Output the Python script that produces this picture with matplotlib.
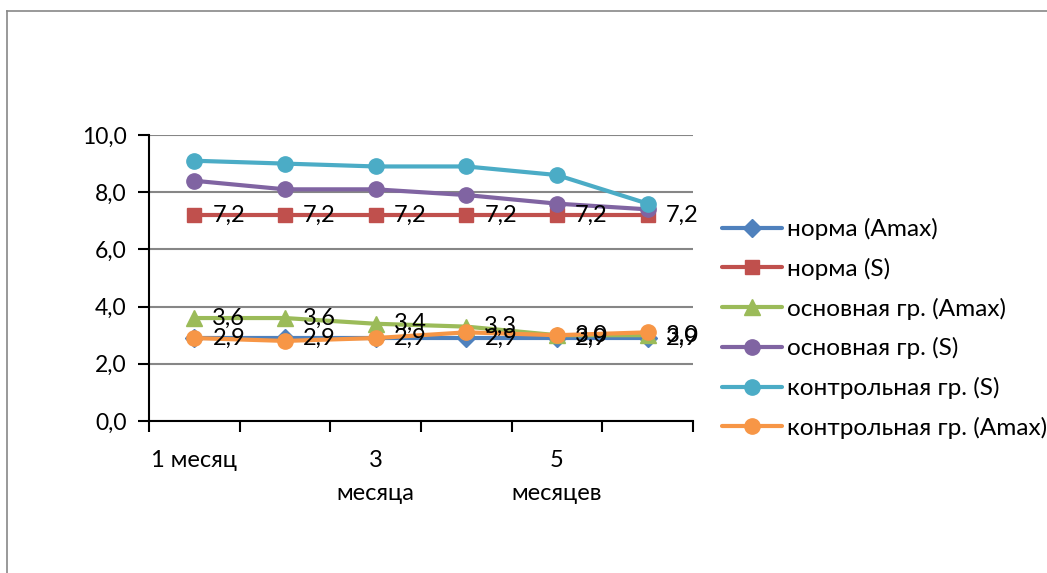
import matplotlib.pyplot as plt
from matplotlib.lines import Line2D

plt.rcParams['font.family'] = ['Lato', 'DejaVu Sans']

months = ["1 месяц", "2 месяца", "3\nмесяца", "4 месяца", "5\nмесяцев", "6 месяцев"]
tick_labels = ["1 месяц", "", "3\nмесяца", "", "5\nмесяцев", ""]

norm_amax = [2.9, 2.9, 2.9, 2.9, 2.9, 2.9]
norm_s = [7.2, 7.2, 7.2, 7.2, 7.2, 7.2]
main_amax = [3.6, 3.6, 3.4, 3.3, 3.0, 3.0]
main_s = [8.4, 8.1, 8.1, 7.9, 7.6, 7.4]
ctrl_s = [9.1, 9.0, 8.9, 8.9, 8.6, 7.6]
ctrl_amax = [2.9, 2.8, 2.9, 3.1, 3.0, 3.1]

series = [
    ("норма (Amax)", norm_amax, "#4F81BD", "D", 9, True),
    ("норма (S)", norm_s, "#C0504D", "s", 10, True),
    ("основная гр. (Amax)", main_amax, "#9BBB59", "^", 11, True),
    ("основная гр. (S)", main_s, "#8064A2", "o", 11, False),
    ("контрольная гр. (S)", ctrl_s, "#4BACC6", "o", 11, False),
    ("контрольная гр. (Amax)", ctrl_amax, "#F79646", "o", 11, False),
]

fig = plt.figure(figsize=(10.47, 5.73), dpi=100)
ax = fig.add_axes([149 / 1047, 1 - 421 / 573, (693 - 149) / 1047, (421 - 135) / 573])

x = list(range(len(months)))
for i, (name, vals, color, marker, ms, labelled) in enumerate(series):
    ax.plot(x, vals, color=color, lw=3, marker=marker, ms=ms,
            label=name, zorder=3 + i, solid_capstyle='round')
    if labelled:
        for xi, v in zip(x, vals):
            ax.annotate(f"{v:.1f}".replace(".", ","), (xi, v), xytext=(13, 0),
                        textcoords="offset points", va="center", ha="left",
                        fontsize=17, color="black", zorder=20)

ax.set_xlim(-0.5, 5.5)
ax.set_ylim(0, 10)
ax.set_yticks([0, 2, 4, 6, 8, 10])
ax.set_yticklabels(["0,0", "2,0", "4,0", "6,0", "8,0", "10,0"], fontsize=16.5)
ax.yaxis.grid(True, color="#868686", lw=1.5)
ax.set_axisbelow(True)

ax.set_xticks(x)
ax.set_xticklabels(tick_labels, fontsize=17, linespacing=1.7, va="top")
ax.set_xticks([i - 0.5 for i in range(7)], minor=True)
ax.tick_params(axis="x", which="major", length=0, pad=21)
ax.tick_params(axis="x", which="minor", length=8, width=1.5, direction="out")
ax.tick_params(axis="y", length=8, width=1.5, pad=8, direction="out")

for side in ["top", "right"]:
    ax.spines[side].set_visible(False)
ax.spines["left"].set_linewidth(1.5)
ax.spines["bottom"].set_linewidth(1.5)

fig.legend(loc="center left", bbox_to_anchor=(722 / 1047, 1 - 328.5 / 573),
           frameon=False, fontsize=17.6, borderpad=0, borderaxespad=0,
           handlelength=2.45, handletextpad=0.2, labelspacing=0.72)

# chart area border
fig.add_artist(Line2D([7 / 1047, 7 / 1047], [0, 1 - 11 / 573], color="#888888", lw=1.2,
                      transform=fig.transFigure))
fig.add_artist(Line2D([7 / 1047, 1], [1 - 11 / 573, 1 - 11 / 573], color="#888888", lw=1.2,
                      transform=fig.transFigure))

fig.savefig("out.png", dpi=100, facecolor="white")
